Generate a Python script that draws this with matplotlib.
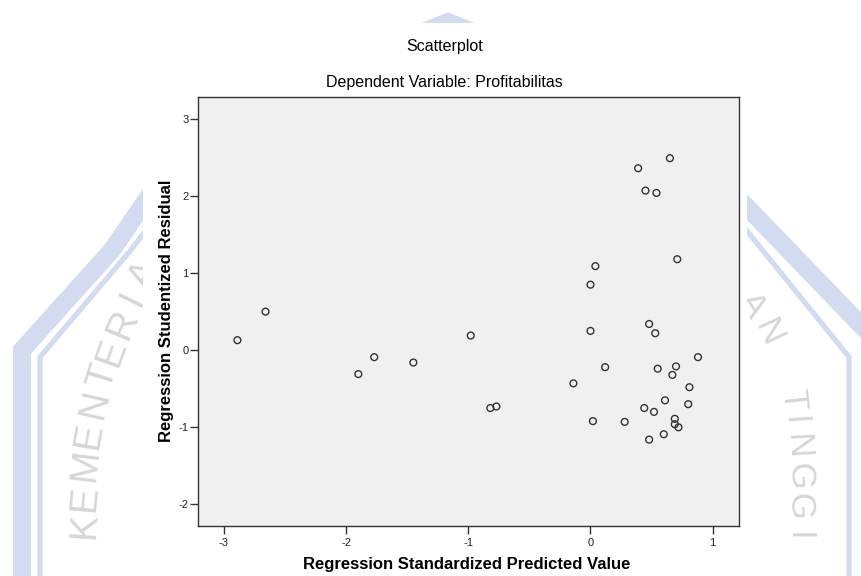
import matplotlib
matplotlib.use("Agg")
import matplotlib.pyplot as plt
from matplotlib.lines import Line2D
from matplotlib.patches import Rectangle, Polygon

plt.rcParams['font.family'] = ['Liberation Sans', 'DejaVu Sans']

# ---- data ----
title = "Scatterplot"
subtitle = "Dependent Variable: Profitabilitas"
x_label = "Regression Standardized Predicted Value"
y_label = "Regression Studentized Residual"
x_ticks = [-3, -2, -1, 0, 1]
y_ticks = [-2, -1, 0, 1, 2, 3]

pred = [-2.89, -2.66, -1.90, -1.77, -1.45, -0.98, -0.82, -0.77, -0.14, 0.00,
        0.00, 0.04, 0.02, 0.12, 0.28, 0.39, 0.45, 0.54, 0.65, 0.71,
        0.48, 0.53, 0.44, 0.52, 0.55, 0.48, 0.61, 0.60, 0.67, 0.70,
        0.69, 0.69, 0.72, 0.81, 0.80, 0.88]
resid = [0.13, 0.50, -0.31, -0.09, -0.16, 0.19, -0.75, -0.73, -0.43, 0.25,
         0.85, 1.09, -0.92, -0.22, -0.93, 2.36, 2.07, 2.04, 2.49, 1.18,
         0.34, 0.22, -0.75, -0.80, -0.24, -1.16, -0.65, -1.09, -0.32, -0.21,
         -0.89, -0.96, -1.00, -0.48, -0.70, -0.09]

W, H = 862, 576
fig = plt.figure(figsize=(W / 100, H / 100), dpi=100)
fig.patch.set_facecolor('white')


def fx(px):
    return px / W


def fy(py):
    return 1 - py / H


# ---- background watermark (behind the chart panel) ----
band = '#d3dbf0'
txtc = '#d6d6d6'
bands = [
    ([(22, 590), (22, 350), (112, 250), (160, 180)], 13),
    ([(40, 590), (40, 357), (131, 250), (165, 205)], 3.8),
    ([(849, 590), (849, 357), (747, 231), (720, 200)], 3.8),
    ([(880, 345), (747, 207), (720, 180)], 13),
]
for pts, lw in bands:
    fig.add_artist(Line2D([fx(p[0]) for p in pts], [fy(p[1]) for p in pts],
                          color=band, lw=lw, solid_joinstyle='miter', zorder=0))
fig.add_artist(Polygon([(fx(418), fy(25)), (fx(448), fy(13)), (fx(478), fy(25))],
                       closed=True, color=band, transform=fig.transFigure, zorder=0))

left_letters = [("K", 85, 525, 86), ("E", 85, 498, 85), ("M", 86, 465, 83),
                ("E", 89, 435, 80), ("N", 95, 404, 77), ("T", 103, 377, 73),
                ("E", 112, 352, 70), ("R", 123, 324, 67), ("I", 133, 299, 64),
                ("A", 145, 275, 62)]
for ch, px, py, rot in left_letters:
    fig.text(fx(px), fy(py), ch, fontsize=28, color=txtc, rotation=rot,
             ha='center', va='center', rotation_mode='anchor', zorder=0.5)
right_letters = [("A", 752, 305, -58), ("N", 768, 332, -65), ("T", 793, 400, -84),
                 ("I", 795, 421, -86), ("N", 797, 446, -87), ("G", 799, 476, -88),
                 ("G", 799, 506, -89), ("I", 798, 537, -90)]
for ch, px, py, rot in right_letters:
    fig.text(fx(px), fy(py), ch, fontsize=25, color=txtc, rotation=rot,
             ha='center', va='center', rotation_mode='anchor', zorder=0.5)

# white chart panel
fig.add_artist(Rectangle((fx(143), 0), fx(747) - fx(143), fy(23), facecolor='white',
                         edgecolor='none', transform=fig.transFigure, zorder=1))

# ---- axes ----
ax_l, ax_r, ax_t, ax_b = 197.7, 739.3, 97.3, 526.0
ax = fig.add_axes([fx(ax_l), fy(ax_b), (ax_r - ax_l) / W, (ax_b - ax_t) / H], zorder=2)
ax.set_facecolor('#f0f0f0')
ax.scatter(pred, resid, s=24, facecolors='none', edgecolors='#333333', linewidths=1.0,
           zorder=3)
ax.set_xlim(-3.215, 1.218)
ax.set_ylim(-2.28, 3.28)
ax.set_xticks(x_ticks)
ax.set_yticks(y_ticks)
ax.set_xticklabels([str(t) for t in x_ticks])
ax.set_yticklabels([str(t) for t in y_ticks])
for s in ax.spines.values():
    s.set_color('#333333')
    s.set_linewidth(1.0)
ax.tick_params(axis='both', direction='out', length=6, width=1.0, color='#333333',
               labelsize=8, labelcolor='#222222')
ax.tick_params(axis='y', pad=0.5)
ax.tick_params(axis='x', pad=3)

ax.set_xlabel(x_label, fontsize=12, fontweight='bold', va='center')
ax.set_ylabel(y_label, fontsize=12, fontweight='bold', va='center')
ax.xaxis.set_label_coords((467 - ax_l) / (ax_r - ax_l), (ax_b - 565) / (ax_b - ax_t))
ax.yaxis.set_label_coords((167 - ax_l) / (ax_r - ax_l), (ax_b - 311) / (ax_b - ax_t))

fig.text(fx(445), fy(47), title, fontsize=11.5, ha='center', va='center', color='#000000',
         zorder=3)
fig.text(fx(444), fy(83), subtitle, fontsize=11.5, ha='center', va='center', color='#000000',
         zorder=3)

fig.savefig('out.png', dpi=100)
